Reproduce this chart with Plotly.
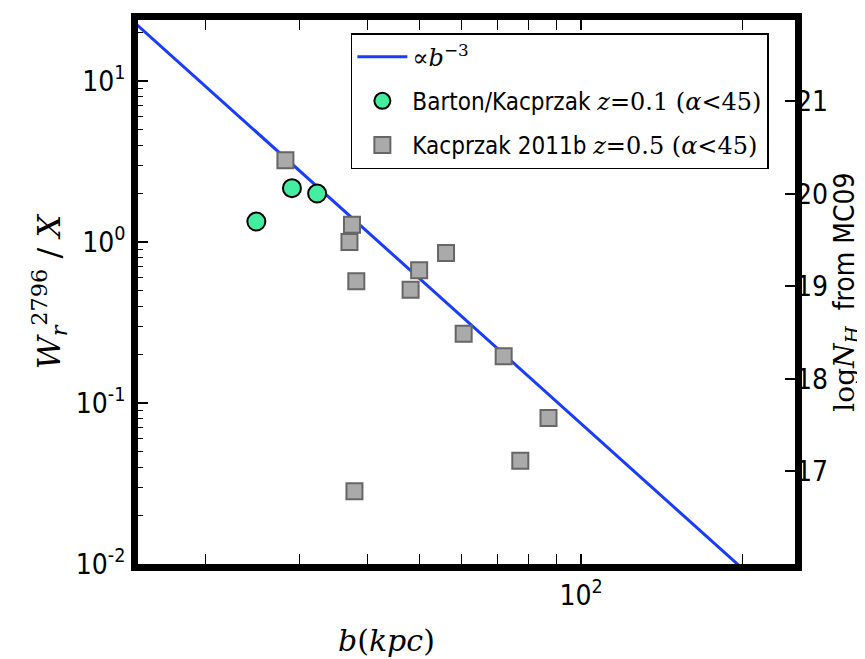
import numpy as np
import plotly.graph_objects as go

# ---- data ----
b_barton = [24.9, 29.0, 32.3]
W_barton = [1.34, 2.16, 2.00]

b_k11 = [28.2, 37.5, 37.1, 38.2, 50.0, 48.2, 56.1, 60.5, 71.8, 37.9, 77.1, 87.0]
W_k11 = [3.22, 1.28, 1.00, 0.570, 0.667, 0.505, 0.855, 0.269, 0.195, 0.0283, 0.0438, 0.0807]

# power-law model  W ∝ b^-3
model_norm = 10 ** 4.872
model_slope = -3
b_line = [10.0, 300.0]
W_line = [model_norm * b ** model_slope for b in b_line]

# tick labels
y_tickvals = [0.01, 0.1, 1, 10]
y_ticktext = ["10<sup>-2</sup>", "10<sup>-1</sup>", "10<sup>0</sup>", "10<sup>1</sup>"]
x_tickvals = [100]
x_ticktext = ["10<sup>2</sup>"]

# right-axis (log N_H from MC09) tick labels
nh_ticks = [17, 18, 19, 20, 21]
nh_range = [16.0, 21.88]

SANS = "Liberation Sans Narrow, DejaVu Sans Condensed, DejaVu Sans, sans-serif"
SERIF = "DejaVu Serif, Liberation Serif, serif"

fig = go.Figure()
fig.add_trace(go.Scatter(
    x=b_line, y=W_line, mode="lines",
    line=dict(color="#1a3cff", width=3),
    name="<span style='font-family:DejaVu Serif'>∝<i>b</i><sup>−3</sup></span>",
    legendgroup="a",
))
fig.add_trace(go.Scatter(
    x=b_barton, y=W_barton, mode="markers",
    marker=dict(symbol="circle", size=18, color="#44eea0",
                line=dict(color="black", width=2)),
    name="Barton/Kacprzak <span style='font-family:DejaVu Serif'><i>z</i>=0.1 (<i>α</i>&lt;45)</span>",
    legendgroup="b",
))
fig.add_trace(go.Scatter(
    x=b_k11, y=W_k11, mode="markers",
    marker=dict(symbol="square", size=16, color="#aaaaaa",
                line=dict(color="#666666", width=2)),
    name="Kacprzak 2011b <span style='font-family:DejaVu Serif'><i>z</i>=0.5 (<i>α</i>&lt;45)</span>",
    legendgroup="c",
))
# invisible trace to carry the right axis
fig.add_trace(go.Scatter(x=[None], y=[None], yaxis="y2", showlegend=False, hoverinfo="skip"))

axis_common = dict(
    showline=True, linewidth=7, linecolor="black",
    ticks="inside", ticklen=10, tickwidth=1.5, tickcolor="black",
    showgrid=False, zeroline=False, automargin=False,
    tickfont=dict(family=SANS, size=28, color="black"),
)
minor_ticks = dict(ticks="inside", ticklen=5, tickwidth=1, tickcolor="black",
                   showgrid=False, dtick="D1")

fig.update_layout(
    width=865, height=659,
    margin=dict(l=130, r=78, t=12, b=103),
    plot_bgcolor="white", paper_bgcolor="white",
    xaxis=dict(
        type="log", range=[np.log10(15), np.log10(250)],
        tickmode="array", tickvals=x_tickvals, ticktext=x_ticktext,
        mirror="allticks", minor=minor_ticks,
        **axis_common,
    ),
    yaxis=dict(
        type="log", range=[-2, 1.379],
        tickmode="array", tickvals=y_tickvals, ticktext=y_ticktext,
        mirror=True, minor=minor_ticks,
        title=dict(text="<i>W</i><sub><i>r</i></sub><sup>2796</sup> / <i>X</i>",
                   font=dict(family=SERIF, size=32, color="black"), standoff=8),
        **axis_common,
    ),
    yaxis2=dict(
        overlaying="y", side="right", range=nh_range,
        tickvals=nh_ticks, ticktext=[str(t) for t in nh_ticks],
        ticks="inside", ticklen=10, tickwidth=1.5, tickcolor="black",
        showline=False, showgrid=False, zeroline=False, automargin=False,
        tickfont=dict(family=SANS, size=28, color="black"),
        title=dict(text="<span style='font-family:DejaVu Serif'>log<i>N</i><sub><i>H</i></sub></span>  from MC09",
                   font=dict(family=SANS, size=28, color="black"), standoff=6),
    ),
    legend=dict(
        x=0.324, y=0.976, xanchor="left", yanchor="top",
        bordercolor="black", borderwidth=1.5, bgcolor="white",
        font=dict(family=SANS, size=24, color="black"),
        tracegroupgap=10, itemwidth=50,
    ),
    annotations=[dict(
        text="<i>b</i>(<i>kpc</i>)", xref="paper", yref="paper",
        x=0.3775, y=-0.14, xanchor="center", yanchor="middle",
        showarrow=False, font=dict(family=SERIF, size=30, color="black"),
    )],
)

fig.write_html("out.html")
